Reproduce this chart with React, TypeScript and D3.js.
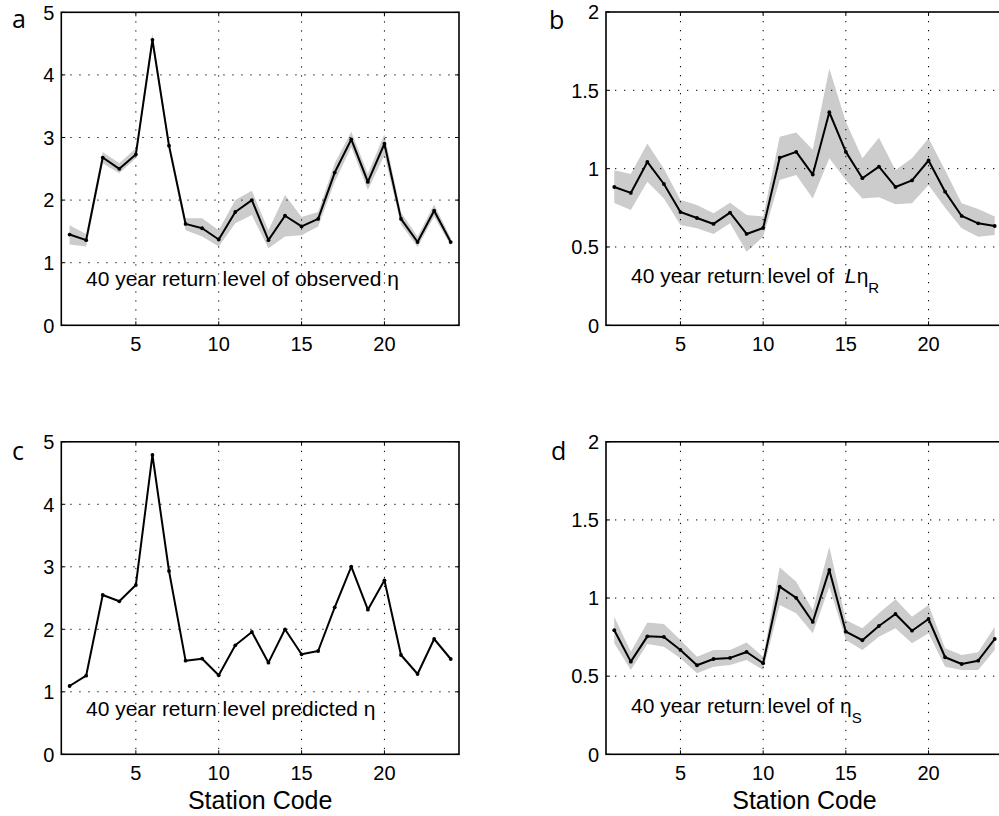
import React from "react";
import * as d3 from "d3";

const stations = d3.range(1, 25);

const obsEta = [1.45, 1.36, 2.68, 2.5, 2.73, 4.56, 2.87, 1.62, 1.55, 1.37, 1.81, 2.0, 1.36, 1.75, 1.58, 1.7, 2.44, 2.97, 2.29, 2.9, 1.7, 1.33, 1.83, 1.33];
const obsEtaUpper = [1.6, 1.46, 2.77, 2.59, 2.83, 4.66, 2.95, 1.71, 1.71, 1.52, 2.0, 2.15, 1.52, 2.08, 1.73, 1.81, 2.59, 3.09, 2.42, 3.05, 1.8, 1.42, 1.93, 1.4];
const obsEtaLower = [1.29, 1.26, 2.59, 2.43, 2.67, 4.45, 2.8, 1.52, 1.42, 1.26, 1.63, 1.76, 1.23, 1.42, 1.44, 1.58, 2.29, 2.85, 2.16, 2.72, 1.61, 1.25, 1.74, 1.27];

const lEtaR = [0.883, 0.845, 1.043, 0.902, 0.723, 0.685, 0.647, 0.719, 0.583, 0.621, 1.07, 1.107, 0.962, 1.36, 1.107, 0.939, 1.013, 0.883, 0.925, 1.052, 0.853, 0.698, 0.651, 0.634];
const lEtaRUpper = [0.99, 0.966, 1.16, 1.0, 0.8, 0.768, 0.715, 0.783, 0.704, 0.694, 1.204, 1.23, 1.12, 1.64, 1.3, 1.066, 1.198, 0.992, 1.066, 1.194, 0.99, 0.779, 0.743, 0.694];
const lEtaRLower = [0.78, 0.736, 0.917, 0.81, 0.64, 0.62, 0.583, 0.651, 0.47, 0.566, 0.928, 0.96, 0.81, 1.066, 0.928, 0.81, 0.817, 0.773, 0.779, 0.896, 0.75, 0.62, 0.565, 0.577];

const predEta = [1.093, 1.258, 2.549, 2.448, 2.709, 4.789, 2.933, 1.498, 1.53, 1.264, 1.744, 1.957, 1.466, 2.0, 1.6, 1.653, 2.352, 3.002, 2.314, 2.784, 1.589, 1.285, 1.845, 1.525];

const etaS = [0.794, 0.593, 0.755, 0.751, 0.668, 0.57, 0.61, 0.617, 0.655, 0.583, 1.073, 1.001, 0.847, 1.18, 0.785, 0.73, 0.821, 0.898, 0.791, 0.866, 0.621, 0.578, 0.599, 0.738];
const etaSUpper = [0.881, 0.657, 0.843, 0.834, 0.732, 0.625, 0.668, 0.668, 0.715, 0.625, 1.197, 1.105, 0.924, 1.329, 0.86, 0.807, 0.903, 0.992, 0.881, 0.956, 0.679, 0.636, 0.653, 0.817];
const etaSLower = [0.71, 0.54, 0.706, 0.689, 0.614, 0.518, 0.561, 0.572, 0.604, 0.54, 0.956, 0.903, 0.775, 1.073, 0.732, 0.668, 0.753, 0.807, 0.711, 0.775, 0.561, 0.54, 0.54, 0.668];

const xTicks = [5, 10, 15, 20];
const yTicksEta = [0, 1, 2, 3, 4, 5];
const yTicksSmall = [0, 0.5, 1, 1.5, 2];
const yTickLabelsSmall = ["0", "0.5", "1", "1.5", "2"];
const xLabel = "Station Code";

const FONT = "'Liberation Sans', Arial, Helvetica, sans-serif";

type PanelProps = {
  letter: string;
  left: number;
  right: number;
  top: number;
  bottom: number;
  yMax: number;
  yTicks: number[];
  yLabels: string[];
  values: number[];
  upper?: number[];
  lower?: number[];
  showXLabel: boolean;
  letterPos: [number, number];
  label: React.ReactNode;
  labelPos: [number, number];
};

function Panel(p: PanelProps) {
  const x = d3.scaleLinear().domain([0.5, 24.5]).range([p.left, p.right]);
  const y = d3.scaleLinear().domain([0, p.yMax]).range([p.bottom, p.top]);
  const line = d3
    .line<number>()
    .x((_, i) => x(stations[i]))
    .y((d) => y(d));
  let bandPath: string | null = null;
  if (p.upper && p.lower) {
    const lower = p.lower;
    const upper = p.upper;
    bandPath = d3
      .area<number>()
      .x((s) => x(s))
      .y0((_, i) => y(lower[i]))
      .y1((_, i) => y(upper[i]))(stations);
  }
  const tickLen = 4;
  const dash = "1.3 7.7";
  return (
    <g>
      {bandPath && <path d={bandPath} fill="#cccccc" stroke="none" />}
      {xTicks.map((t) => (
        <line key={"gx" + t} x1={x(t)} x2={x(t)} y1={p.top} y2={p.bottom} stroke="#000" strokeWidth={1} strokeDasharray={dash} />
      ))}
      {p.yTicks
        .filter((t) => t > 0 && t < p.yMax)
        .map((t) => (
          <line key={"gy" + t} x1={p.left} x2={p.right} y1={y(t)} y2={y(t)} stroke="#000" strokeWidth={1} strokeDasharray={dash} />
        ))}
      <path d={line(p.values) || ""} fill="none" stroke="#000" strokeWidth={2} strokeLinejoin="round" />
      {p.values.map((v, i) => (
        <circle key={"m" + i} cx={x(stations[i])} cy={y(v)} r={1.9} fill="#000" />
      ))}
      {xTicks.map((t) => (
        <g key={"tx" + t}>
          <line x1={x(t)} x2={x(t)} y1={p.bottom} y2={p.bottom - tickLen} stroke="#000" strokeWidth={1} />
          <line x1={x(t)} x2={x(t)} y1={p.top} y2={p.top + tickLen} stroke="#000" strokeWidth={1} />
          <text x={x(t)} y={p.bottom + 26} textAnchor="middle" fontFamily={FONT} fontSize={20} fill="#000">
            {t}
          </text>
        </g>
      ))}
      {p.yTicks.map((t, i) => (
        <g key={"ty" + t}>
          <line x1={p.left} x2={p.left + tickLen} y1={y(t)} y2={y(t)} stroke="#000" strokeWidth={1} />
          <line x1={p.right} x2={p.right - tickLen} y1={y(t)} y2={y(t)} stroke="#000" strokeWidth={1} />
          <text x={p.left - 7} y={y(t)} dy="0.36em" textAnchor="end" fontFamily={FONT} fontSize={20} fill="#000">
            {p.yLabels[i]}
          </text>
        </g>
      ))}
      <rect x={p.left} y={p.top} width={p.right - p.left} height={p.bottom - p.top} fill="none" stroke="#000" strokeWidth={1.6} />
      <text x={p.labelPos[0]} y={p.labelPos[1]} fontFamily={FONT} fontSize={21} fill="#000" xmlSpace="preserve">
        {p.label}
      </text>
      {p.showXLabel && (
        <text x={(p.left + p.right) / 2} y={p.bottom + 55} textAnchor="middle" fontFamily={FONT} fontSize={25} fill="#000">
          {xLabel}
        </text>
      )}
      <text x={p.letterPos[0]} y={p.letterPos[1]} fontFamily="'Open Sans', 'Noto Sans', sans-serif" fontSize={25} fill="#000">
        {p.letter}
      </text>
    </g>
  );
}

export default function App() {
  const etaLabels = yTicksEta.map((t) => String(t));
  return (
    <svg width={999} height={816} style={{ position: "absolute", left: 0, top: 0, background: "#fff" }}>
      <rect x={0} y={0} width={999} height={816} fill="#fff" />
      <Panel
        letter="a"
        left={61.3}
        right={459}
        top={12.3}
        bottom={325.3}
        yMax={5}
        yTicks={yTicksEta}
        yLabels={etaLabels}
        values={obsEta}
        upper={obsEtaUpper}
        lower={obsEtaLower}
        showXLabel={false}
        letterPos={[12, 28]}
        label={<>40 year return level of observed η</>}
        labelPos={[86, 286]}
      />
      <Panel
        letter="b"
        left={606}
        right={1003}
        top={12}
        bottom={325.3}
        yMax={2}
        yTicks={yTicksSmall}
        yLabels={yTickLabelsSmall}
        values={lEtaR}
        upper={lEtaRUpper}
        lower={lEtaRLower}
        showXLabel={false}
        letterPos={[549, 29]}
        label={
          <>
            40 year return level of <tspan dx={5} fontStyle="italic">L</tspan>
            <tspan>η</tspan>
            <tspan dy={10} fontSize={15}>R</tspan>
          </>
        }
        labelPos={[631, 283]}
      />
      <Panel
        letter="c"
        left={61.3}
        right={459}
        top={441.8}
        bottom={754.3}
        yMax={5}
        yTicks={yTicksEta}
        yLabels={etaLabels}
        values={predEta}
        showXLabel={true}
        letterPos={[12, 460]}
        label={<>40 year return level predicted η</>}
        labelPos={[86, 716]}
      />
      <Panel
        letter="d"
        left={606}
        right={1003}
        top={441.8}
        bottom={754.3}
        yMax={2}
        yTicks={yTicksSmall}
        yLabels={yTickLabelsSmall}
        values={etaS}
        upper={etaSUpper}
        lower={etaSLower}
        showXLabel={true}
        letterPos={[551, 460]}
        label={
          <>
            40 year return level of η<tspan dy={10} fontSize={15}>S</tspan>
          </>
        }
        labelPos={[631, 713]}
      />
    </svg>
  );
}
